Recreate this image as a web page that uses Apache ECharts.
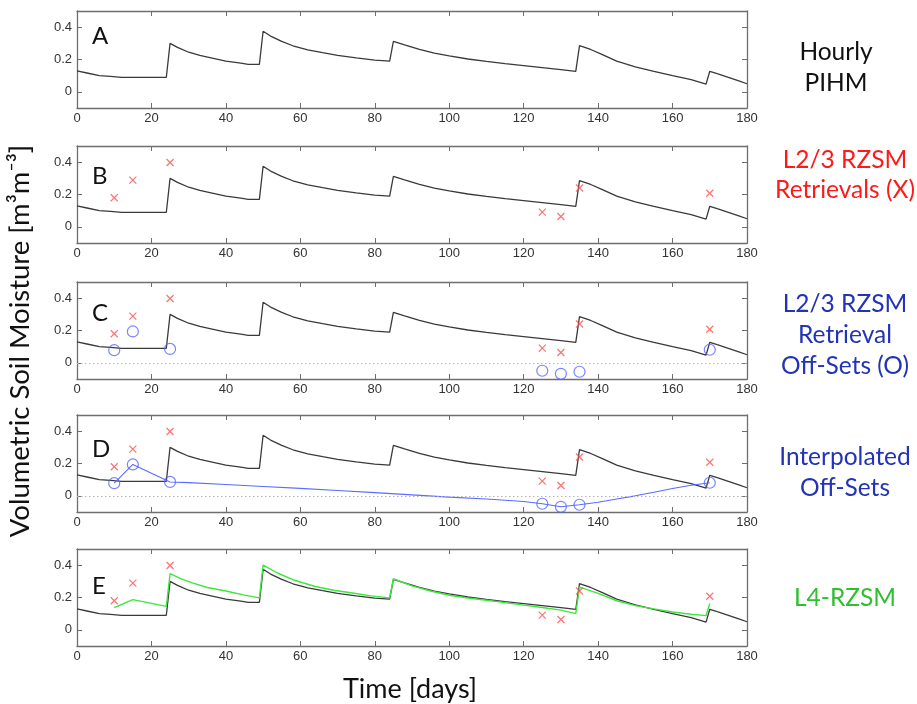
<!DOCTYPE html>
<html>
<head>
<meta charset="utf-8">
<script src="https://cdn.jsdelivr.net/npm/echarts@6/dist/echarts.min.js"></script>
<style>
  html, body { margin: 0; padding: 0; background: #fff; }
  #main { width: 917px; height: 704px; }
</style>
</head>
<body>
<div id="main"></div>
<script>
// hourly PIHM soil moisture (black line)
var pihmDays = [0, 3, 6, 9, 12, 24, 25, 27, 30, 33, 36, 40, 44, 46, 49,
  50, 52, 55, 58, 62, 66, 70, 75, 80, 84,
  85, 88, 92, 96, 100, 105, 110, 115, 120, 125, 130, 134,
  135, 138, 141, 145, 150, 155, 160, 165, 169,
  170, 172, 175, 178, 180];
var pihmVals = [0.13, 0.115, 0.10, 0.095, 0.09, 0.09, 0.30, 0.275, 0.245, 0.225, 0.21, 0.19, 0.177, 0.17, 0.17,
  0.375, 0.345, 0.312, 0.285, 0.26, 0.242, 0.226, 0.21, 0.196, 0.19,
  0.312, 0.29, 0.262, 0.24, 0.222, 0.203, 0.188, 0.174, 0.162, 0.15, 0.138, 0.126,
  0.286, 0.262, 0.232, 0.19, 0.155, 0.127, 0.10, 0.075, 0.048,
  0.127, 0.112, 0.09, 0.066, 0.05];

// L2/3 RZSM retrievals (red x) and their off-sets (blue o)
var obsDays = [10, 15, 25, 125, 130, 135, 170];
var retrievalVals = [0.18, 0.289, 0.398, 0.091, 0.064, 0.24, 0.208];
var offsetVals = [0.078, 0.194, 0.086, -0.049, -0.068, -0.055, 0.081];

// interpolated off-sets (blue line, panel D)
var interpDays = [10, 15, 25, 30, 40, 50, 60, 70, 80, 90, 100, 110, 120, 125, 130, 135, 140, 145, 150, 155, 160, 165, 170];
var interpVals = [0.078, 0.194, 0.086, 0.082, 0.07, 0.058, 0.046, 0.033, 0.02, 0.006, -0.008, -0.02, -0.035, -0.049, -0.068, -0.055, -0.04, -0.02, 0.0, 0.022, 0.045, 0.065, 0.081];

// L4-RZSM (green line, panel E)
var l4Days = [10, 15, 24, 25, 28, 31, 35, 40, 45, 49,
  50, 54, 58, 64, 69, 74, 79, 84,
  85, 90, 95, 100, 105, 110, 115, 120, 125, 130, 134,
  135, 140, 145, 150, 155, 160, 165, 169, 170];
var l4Vals = [0.137, 0.187, 0.145, 0.347, 0.315, 0.29, 0.262, 0.24, 0.215, 0.198,
  0.40, 0.35, 0.31, 0.268, 0.245, 0.228, 0.21, 0.198,
  0.316, 0.272, 0.24, 0.214, 0.197, 0.183, 0.168, 0.153, 0.138, 0.122, 0.10,
  0.264, 0.225, 0.18, 0.15, 0.13, 0.11, 0.096, 0.088, 0.163];

var yTicks = [0, 0.2, 0.4];
var panelLetters = ['A', 'B', 'C', 'D', 'E'];
var sideLabels = [
  ['Hourly', 'PIHM'],
  ['L2/3 RZSM', 'Retrievals (X)'],
  ['L2/3 RZSM', 'Retrieval', 'Off-Sets (O)'],
  ['Interpolated', 'Off-Sets'],
  ['L4-RZSM']
];
var sideColors = ['#111111', '#ff1a1a', '#2233b5', '#2233b5', '#2fbf2f'];

var gridTops = [11, 146, 282, 415, 549];
var letterY = [36, 176, 313, 449, 586];
var sideY = [[52, 83], [160, 190], [304, 335, 366], [457, 488], [598]];
var sideX = [836, 845, 845, 845, 845];

function zip(a, b) {
  return a.map(function (d, i) { return [d, b[i]]; });
}

var xSym = 'path://M0,0L10,10M10,0L0,10';
var frame = '#6e6e6e';
var tickFont = { fontSize: 13, color: '#333', fontFamily: 'Liberation Sans' };

var grids = [], xAxes = [], yAxes = [], series = [], graphics = [];

for (var i = 0; i < 5; i++) {
  grids.push({ left: 77, width: 670, top: gridTops[i], height: 97 });
  ['bottom', 'top'].forEach(function (pos) {
    xAxes.push({
      gridIndex: i, type: 'value', min: 0, max: 180, interval: 20, position: pos,
      axisLine: { show: true, onZero: false, lineStyle: { color: frame, width: 1.3 } },
      axisTick: { show: true, inside: true, length: 5, lineStyle: { color: frame } },
      axisLabel: Object.assign({ show: pos === 'bottom', margin: 4 }, tickFont),
      splitLine: { show: false }
    });
  });
  ['left', 'right'].forEach(function (pos) {
    yAxes.push({
      gridIndex: i, type: 'value', min: -0.1, max: 0.5, position: pos,
      axisLine: { show: true, onZero: false, lineStyle: { color: frame, width: 1.3 } },
      axisTick: { show: true, inside: true, length: 5, customValues: yTicks, lineStyle: { color: frame } },
      axisLabel: Object.assign({
        show: pos === 'left', margin: 5, customValues: yTicks,
        formatter: function (v) { return v === 0 ? '0' : v.toFixed(1); }
      }, tickFont),
      splitLine: { show: false }
    });
  });

  var ax = { xAxisIndex: 2 * i, yAxisIndex: 2 * i };

  series.push(Object.assign({
    type: 'line', data: zip(pihmDays, pihmVals), showSymbol: false, symbol: 'none',
    lineStyle: { color: '#3a3a3a', width: 1.3 }, z: 3,
    markLine: (i === 2 || i === 3) ? {
      silent: true, symbol: 'none', label: { show: false },
      lineStyle: { color: '#b5b5b5', type: [1.5, 2.5], width: 1 },
      data: [{ yAxis: 0 }]
    } : undefined
  }, ax));

  if (i === 3) {
    series.push(Object.assign({
      type: 'line', data: zip(interpDays, interpVals), showSymbol: false, symbol: 'none',
      lineStyle: { color: '#5b6bff', width: 1.1 }, z: 4
    }, ax));
  }
  if (i === 4) {
    series.push(Object.assign({
      type: 'line', data: zip(l4Days, l4Vals), showSymbol: false, symbol: 'none',
      lineStyle: { color: '#3be83b', width: 1.4 }, z: 4
    }, ax));
  }
  if (i === 2 || i === 3) {
    series.push(Object.assign({
      type: 'scatter', data: zip(obsDays, offsetVals), symbol: 'circle', symbolSize: 11,
      itemStyle: { color: 'rgba(0,0,0,0)', borderColor: '#5566ff', borderWidth: 1.2 }, z: 5
    }, ax));
  }
  if (i > 0) {
    series.push(Object.assign({
      type: 'scatter', data: zip(obsDays, retrievalVals), symbol: xSym, symbolSize: 7,
      itemStyle: { color: 'rgba(0,0,0,0)', borderColor: '#ff4d4d', borderWidth: 1.2 }, z: 5
    }, ax));
  }

  graphics.push({
    type: 'text', x: 92, y: letterY[i],
    style: { text: panelLetters[i], font: '24px Lato', fill: '#111', align: 'left', verticalAlign: 'middle' }
  });
  sideLabels[i].forEach(function (line, k) {
    graphics.push({
      type: 'text', x: sideX[i], y: sideY[i][k],
      style: { text: line, font: '24.5px Lato', fill: sideColors[i], align: 'center', verticalAlign: 'middle' }
    });
  });
}

graphics.push({
  type: 'text', x: 20, y: 341, rotation: Math.PI / 2,
  style: { text: 'Volumetric Soil Moisture [m³m⁻³]', font: '27.5px Lato', fill: '#111', align: 'center', verticalAlign: 'middle' }
});
graphics.push({
  type: 'text', x: 410, y: 689,
  style: { text: 'Time [days]', font: '27px Lato', fill: '#111', align: 'center', verticalAlign: 'middle' }
});

var chart = echarts.init(document.getElementById('main'));
chart.setOption({
  animation: false,
  backgroundColor: '#fff',
  grid: grids,
  xAxis: xAxes,
  yAxis: yAxes,
  series: series,
  graphic: graphics
});
</script>
</body>
</html>
